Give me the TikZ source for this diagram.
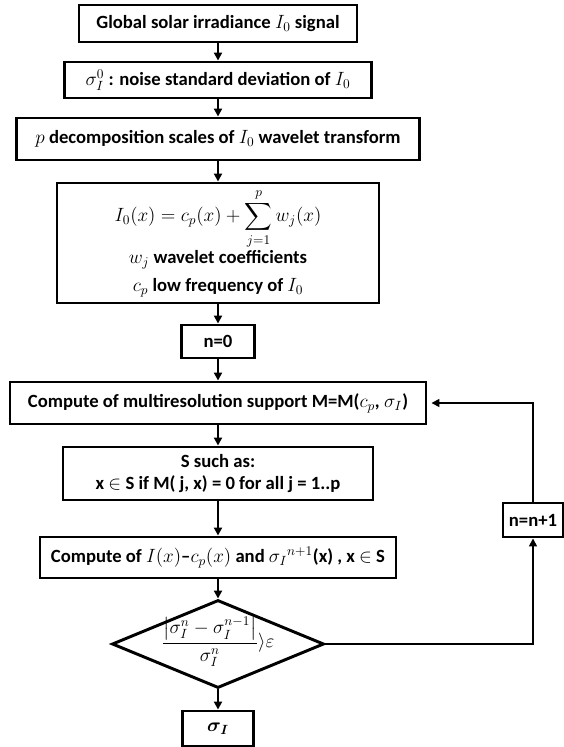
\documentclass[tikz,border=0pt]{standalone}
\usepackage{fontspec}
\usepackage{amsmath}
\setmainfont{Carlito}
\usetikzlibrary{shapes.geometric,arrows.meta}

\begin{document}
\begin{tikzpicture}[x=0.75pt,y=-0.75pt,
    box/.style={draw, line width=2.2pt, align=center, inner sep=1pt,
        font=\bfseries\fontsize{14}{17}\selectfont},
    flow/.style={-{Triangle[length=6pt,width=6pt]}, line width=1.6pt},
    back/.style={-{Triangle[length=6pt,width=6pt]}, line width=1.2pt}]
    \useasboundingbox (0,0) rectangle (564,747);

    % main column
    \node[box, minimum width=208.5pt, minimum height=27.75pt] (sig) at (218,23.5)
        {Global solar irradiance $I_0$ signal};
    \node[box, minimum width=230.25pt, minimum height=27pt] (noise) at (218,80)
        {$\sigma_I^0$ : noise standard deviation of $I_0$};
    \node[box, minimum width=302.25pt, minimum height=31.5pt] (dec) at (218,139)
        {$p$ decomposition scales of $I_0$ wavelet transform};
    \node[box, minimum width=241.5pt, minimum height=90pt,
        font=\bfseries\fontsize{14}{21}\selectfont] (wav) at (218,243)
        {$\displaystyle I_0(x)=c_p(x)+\sum_{j=1}^{p}w_j(x)$\\
         $w_j$ wavelet coefficients\\
         $c_p$ low frequency of $I_0$};
    \node[box, minimum width=54.75pt, minimum height=24.75pt] (n0) at (218,341.5) {n=0};
    \node[box, minimum width=312pt, minimum height=31.5pt] (supp) at (218,403)
        {Compute of multiresolution support M=M($c_p$, $\sigma_I$)};
    \node[box, minimum width=232.5pt, minimum height=39.75pt] (sset) at (218,473.5)
        {S such as:\\ x $\in$ S if M( j, x) = 0 for all j = 1..p};
    \node[box, minimum width=267pt, minimum height=30.75pt] (comp) at (218,557.5)
        {Compute of $I(x)$--$c_p(x)$ and $\sigma_I$$^{n+1}$(x) , x $\in$ S};

    % stopping test
    \node[draw, diamond, line width=2.2pt, inner sep=0pt,
        minimum width=159pt, minimum height=66pt] (test) at (218,644) {};
    \node[font=\fontsize{14}{17}\selectfont] (cond) at (218,642)
        {$\dfrac{\left|\sigma_I^n-\sigma_I^{n-1}\right|}{\sigma_I^n}\rangle\varepsilon$};

    \node[box, minimum width=53.25pt, minimum height=26.25pt] (res) at (218,728.5)
        {$\boldsymbol{\sigma_I}$};
    \node[box, minimum width=45pt, minimum height=25.5pt] (inc) at (533,520) {n=n+1};

    \foreach \a/\b in {sig/noise,noise/dec,dec/wav,wav/n0,n0/supp,
                       supp/sset,sset/comp,comp/test,test/res}
        \draw[flow] (\a) -- (\b);

    % loop back
    \draw[back] (test.east) -| (inc.south);
    \draw[back, shorten >=3pt] (inc.north) |- (supp.east);
\end{tikzpicture}
\end{document}
